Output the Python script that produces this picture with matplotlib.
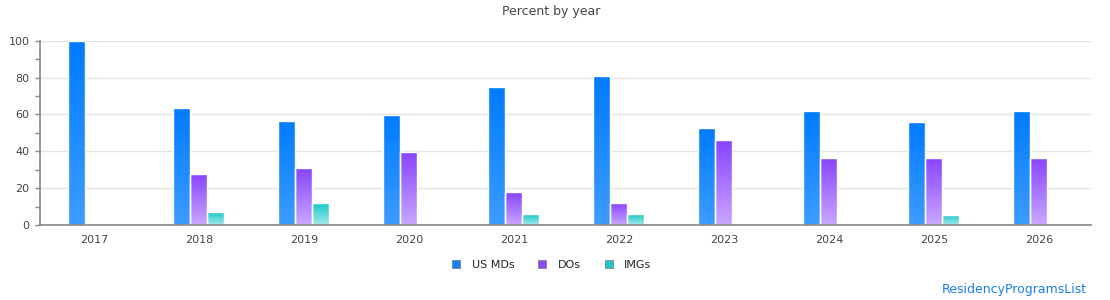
import numpy as np
import matplotlib
matplotlib.use("Agg")
import matplotlib.pyplot as plt
from matplotlib.colors import LinearSegmentedColormap
from matplotlib.lines import Line2D

years = ["2017", "2018", "2019", "2020", "2021", "2022", "2023", "2024", "2025", "2026"]
us_mds = [100, 63.7, 56.2, 59.8, 75.1, 81.1, 52.8, 62.0, 56.0, 62.0]
dos = [0, 27.8, 30.7, 39.8, 17.7, 11.7, 45.9, 36.5, 36.5, 36.5]
imgs = [0, 6.8, 11.7, 0, 5.7, 5.7, 0, 0, 5.6, 0]
series_names = ["US MDs", "DOs", "IMGs"]

grad_colors = [("#007BFF", "#3D9CFF"), ("#8743FF", "#C9A7FF"), ("#17C9C9", "#A6E9E9")]
legend_colors = ["#1580F8", "#8A49F5", "#22C8C8"]

fig = plt.figure(figsize=(11.1, 3.0), dpi=100)
ax = fig.add_axes([40/1110, 1-225/300, (1091-40)/1110, (225-40.7)/300])

x = np.arange(len(years))
w = 0.162
grad = np.linspace(0, 1, 256).reshape(-1, 1)
for i, (vals, (top, bot)) in enumerate(zip([us_mds, dos, imgs], grad_colors)):
    cmap = LinearSegmentedColormap.from_list(f"g{i}", [bot, top])
    bars = ax.bar(x + (i - 1) * w - 0.006, vals, width=w, facecolor="none",
                  edgecolor="white", linewidth=1.0, zorder=3)
    for b in bars:
        h = b.get_height()
        if h <= 0:
            b.set_visible(False)
            continue
        x0 = b.get_x()
        im = ax.imshow(grad, extent=[x0, x0 + b.get_width(), 0, h], origin="lower",
                       aspect="auto", cmap=cmap, zorder=2, interpolation="bilinear")
        im.set_clip_path(b)

ax.set_xlim(-0.515, 9.495)
ax.set_ylim(0, 100)
ax.set_xticks(x)
ax.set_xticklabels(years)
ax.set_yticks(np.arange(0, 101, 20))
ax.set_yticks(np.arange(0, 101, 10), minor=True)
ax.tick_params(axis="x", length=0, pad=7, labelsize=8, colors="#444444")
ax.tick_params(axis="y", which="both", length=3.5, width=1, color="#888888",
               labelsize=8, labelcolor="#444444", pad=4)
ax.grid(axis="y", which="major", color="#e3e3e3", linewidth=1, zorder=1)
ax.set_axisbelow(True)
for s in ["top", "right"]:
    ax.spines[s].set_visible(False)
for s in ["left", "bottom"]:
    ax.spines[s].set_color("#888888")
    ax.spines[s].set_linewidth(1.2)
    ax.spines[s].set_zorder(4)

fig.text(0.497, 1-12/300, "Percent by year", ha="center", va="center",
         fontsize=9, color="#444444")

handles = [Line2D([], [], marker="s", linestyle="none", markersize=6,
                  markerfacecolor=c, markeredgecolor="#777777", markeredgewidth=0.5)
           for c in legend_colors]
fig.legend(handles, series_names, loc="center", bbox_to_anchor=(0.494, 1-265/300),
           ncol=3, frameon=False, fontsize=8, handletextpad=0.4, columnspacing=1.5,
           labelcolor="#222222")

fig.text(1087/1110, 1-289/300, "ResidencyProgramsList", ha="right", va="center",
         fontsize=9, color="#1A7CF5")

fig.savefig("out.png", dpi=100)
